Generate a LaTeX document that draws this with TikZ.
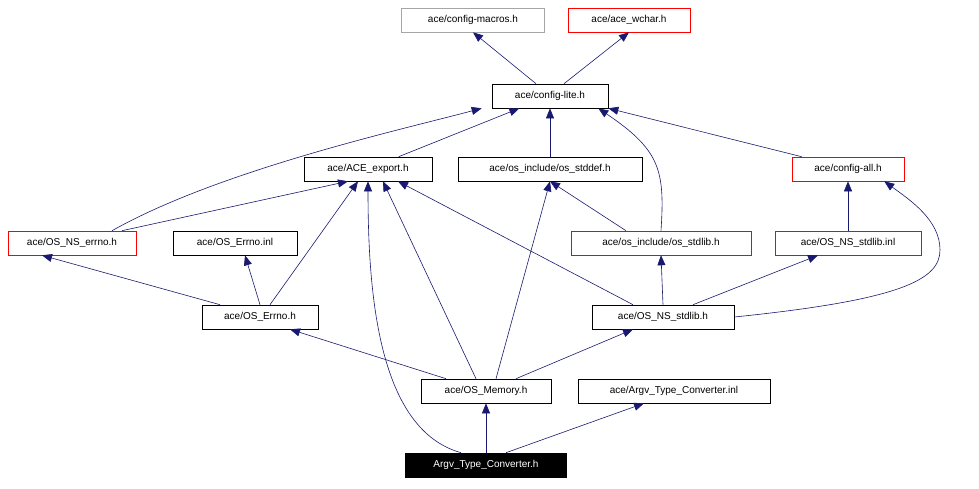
\documentclass[tikz,border=0pt]{standalone}
\usepackage{fontspec}
\setmainfont{Liberation Sans}
\usetikzlibrary{arrows.meta}
\definecolor{edge}{HTML}{191970}
\begin{document}
\begin{tikzpicture}[x=1pt,y=-1pt,
  box/.style={draw=black,line width=0.6pt,minimum height=24pt,inner xsep=4pt,font=\fontsize{10}{11}\selectfont,anchor=center},
  red/.style={box,draw=red},
  gray/.style={box,draw=black!35},
  dep/.style={draw=edge,line width=0.6pt,-{Triangle[length=10pt,width=8pt]},fill=none}]
\useasboundingbox (0,0) rectangle (979,488);
\node[gray,minimum width=143pt] (cm) at (473,20) {ace/config-macros.h};
\node[red,minimum width=122pt] (wc) at (629,20) {ace/ace\_wchar.h};
\node[box,minimum width=116pt] (cl) at (550,96) {ace/config-lite.h};
\node[box,minimum width=128pt] (ae) at (368,169) {ace/ACE\_export.h};
\node[box,minimum width=184pt] (sd) at (550,169) {ace/os\_include/os\_stddef.h};
\node[red,minimum width=112pt] (ca) at (848,169) {ace/config-all.h};
\node[red,minimum width=128pt] (ne) at (72,243) {ace/OS\_NS\_errno.h};
\node[box,minimum width=124pt] (ei) at (235,243) {ace/OS\_Errno.inl};
\node[red,minimum width=180pt] (sl) at (661,243) {ace/os\_include/os\_stdlib.h};
\node[red,minimum width=146pt] (nsi) at (848,243) {ace/OS\_NS\_stdlib.inl};
\node[box,minimum width=116pt] (eh) at (260,317) {ace/OS\_Errno.h};
\node[box,minimum width=142pt] (nsh) at (663,317) {ace/OS\_NS\_stdlib.h};
\node[box,minimum width=130pt] (mem) at (486,391) {ace/OS\_Memory.h};
\node[box,minimum width=192pt] (ati) at (674,391) {ace/Argv\_Type\_Converter.inl};
\node[box,fill=black,text=white,minimum width=161pt] (ath) at (486,465) {Argv\_Type\_Converter.h};

\draw[dep] (cl.north) ++(-14,0) -- (cm.south);
\draw[dep] (cl.north) ++(14,0) -- (wc.south);
\draw[dep] (ae) -- (cl);
\draw[dep] (sd) -- (cl);
\draw[dep] (ca.north west) ++(10,0) -- (cl.east |- cl.south);
\draw[dep] (ne.north) ++(40,0) .. controls (220,170) and (400,130) .. ([xshift=-10pt]cl.south west);
\draw[dep] (ne.north) ++(50,0) -- ([xshift=-20pt]ae.south);
\draw[dep] (sl.north) .. controls (665,170) and (660,150) .. ([xshift=-10pt]cl.south east);
\draw[dep] (sl.north) ++(-35,0) -- (sd.south);
\draw[dep] (nsi.north) -- (ca.south);
\draw[dep] (eh.north) ++(-40,0) -- ([xshift=-30pt]ne.south);
\draw[dep] (eh.north) -- ([xshift=10pt]ei.south);
\draw[dep] (eh.north) ++(10,0) -- ([xshift=-10pt]ae.south);
\draw[dep] (nsh.north) -- (sl.south);
\draw[dep] (nsh.north) ++(30,0) -- ([xshift=-30pt]nsi.south);
\draw[dep] (nsh.north) ++(-30,0) -- ([xshift=30pt]ae.south);
\draw[dep] (nsh.east) .. controls (900,300) and (940,280) .. (940,250) .. controls (940,220) and (910,200) .. ([xshift=-20pt]ca.south east);
\draw[dep] (mem.north) ++(-40,0) -- ([xshift=30pt]eh.south);
\draw[dep] (mem.north) ++(30,0) -- ([xshift=-30pt]nsh.south);
\draw[dep] (mem.north) ++(-10,0) -- ([xshift=15pt]ae.south);
\draw[dep] (mem.north) ++(10,0) -- (sd.south);
\draw[dep] (ath) -- (mem);
\draw[dep] (ath.north) ++(20,0) -- ([xshift=-30pt]ati.south);
\draw[dep] (ath.north) ++(-25,0) .. controls (380,430) and (368,300) .. ([xshift=0pt]ae.south);
\end{tikzpicture}
\end{document}
